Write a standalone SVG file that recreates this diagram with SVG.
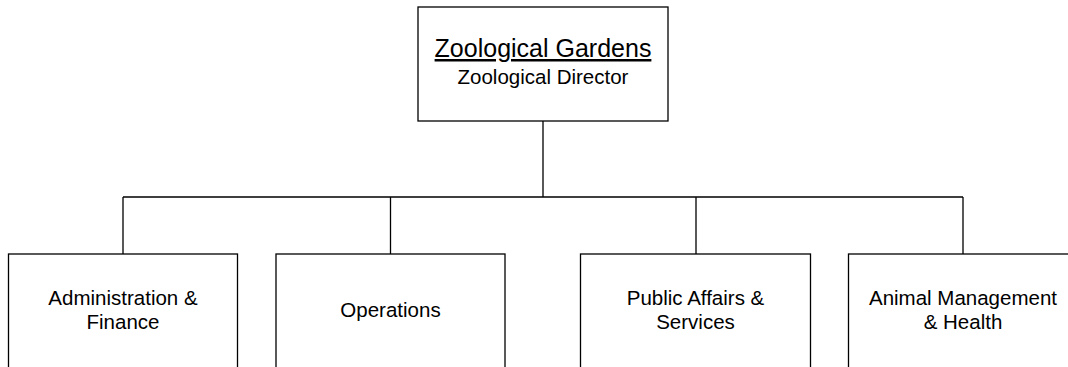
<svg xmlns="http://www.w3.org/2000/svg" width="1068" height="367" viewBox="0 0 1068 367">
<style>
.box{fill:#fff;stroke:#000;stroke-width:1.3}
.ln{fill:none;stroke:#000;stroke-width:1.3}
text{font-family:"Liberation Sans",Arial,sans-serif;fill:#000;text-anchor:middle}
.t{font-size:25px;text-decoration:underline}
.s{font-size:20.5px}
.b{font-size:20.5px}
</style>
<rect width="1068" height="367" fill="#fff"/>
<g id="connectors">
<path class="ln" d="M543 121V197M123 197H963M123 197V254M390.5 197V254M696 197V254M963 197V254"/>
</g>
<g id="zoo">
<rect class="box" x="418" y="7" width="250" height="114"/>
<text class="t" x="543" y="57">Zoological Gardens</text>
<text class="s" x="543" y="84">Zoological Director</text>
</g>
<g id="admin">
<rect class="box" x="8.5" y="254" width="229" height="130"/>
<text class="b" x="123" y="305">Administration &amp;</text>
<text class="b" x="123" y="329">Finance</text>
</g>
<g id="ops">
<rect class="box" x="276" y="254" width="229" height="130"/>
<text class="b" x="390.5" y="317">Operations</text>
</g>
<g id="public">
<rect class="box" x="580.5" y="254" width="230" height="130"/>
<text class="b" x="695.5" y="305">Public Affairs &amp;</text>
<text class="b" x="695.5" y="329">Services</text>
</g>
<g id="animal">
<rect class="box" x="848.5" y="254" width="230" height="130"/>
<text class="b" x="963" y="305">Animal Management</text>
<text class="b" x="963" y="329">&amp; Health</text>
</g>
</svg>
